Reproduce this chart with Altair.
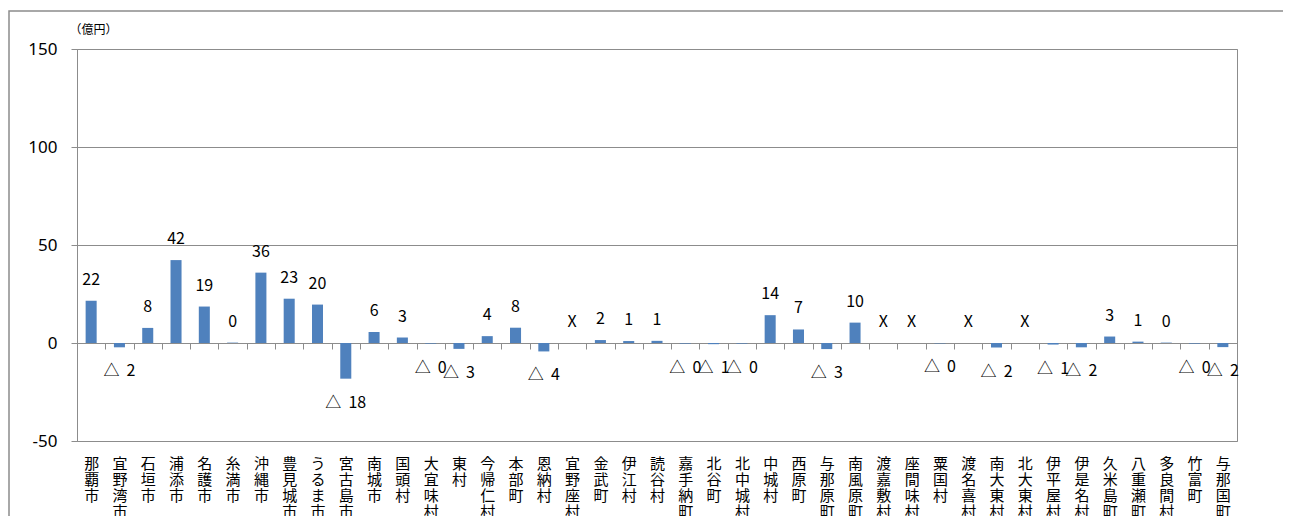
import altair as alt
import pandas as pd

categories = ["那覇市", "宜野湾市", "石垣市", "浦添市", "名護市", "糸満市", "沖縄市", "豊見城市",
              "うるま市", "宮古島市", "南城市", "国頭村", "大宜味村", "東村", "今帰仁村", "本部町",
              "恩納村", "宜野座村", "金武町", "伊江村", "読谷村", "嘉手納町", "北谷町", "北中城村",
              "中城村", "西原町", "与那原町", "南風原町", "渡嘉敷村", "座間味村", "粟国村", "渡名喜村",
              "南大東村", "北大東村", "伊平屋村", "伊是名村", "久米島町", "八重瀬町", "多良間村",
              "竹富町", "与那国町"]
values = [21.5, -2.2, 7.7, 42.3, 18.6, 0.2, 35.9, 22.6,
          19.6, -18.2, 5.6, 2.8, -0.3, -3.0, 3.5, 7.8,
          -4.3, None, 1.5, 1.0, 1.1, -0.3, -0.6, -0.3,
          14.2, 6.9, -3.1, 10.4, None, None, -0.2, None,
          -2.3, None, -0.8, -2.2, 3.3, 0.7, 0.2,
          -0.3, -2.1]
labels = ["22", "△ 2", "8", "42", "19", "0", "36", "23",
          "20", "△ 18", "6", "3", "△ 0", "△ 3", "4", "8",
          "△ 4", "X", "2", "1", "1", "△ 0", "△ 1", "△ 0",
          "14", "7", "△ 3", "10", "X", "X", "△ 0", "X",
          "△ 2", "X", "△ 1", "△ 2", "3", "1", "0",
          "△ 0", "△ 2"]
y_ticks = [-50, 0, 50, 100, 150]
unit_label = "（億円）"

df = pd.DataFrame({"city": categories, "value": values, "label": labels})

GRAY = "#8c8c8c"
NUM_FONT = "Noto Sans"
JP_FONT = "Noto Sans CJK JP"

base = alt.Chart(df).transform_calculate(
    pos="datum.value == null ? 0 : datum.value",
    txt="replace(datum.label, ' ', '\u00a0\u00a0')",
)

x = alt.X(
    "city:N",
    sort=categories,
    scale=alt.Scale(paddingInner=0, paddingOuter=0),
    axis=alt.Axis(
        title=None,
        orient="bottom",
        offset=-98,
        tickBand="extent",
        tickSize=6,
        tickColor=GRAY,
        domainColor=GRAY,
        labelExpr="split(datum.label, '')",
        labelAngle=0,
        labelAlign="center",
        labelBaseline="top",
        labelFont=JP_FONT,
        labelFontSize=15,
        labelLineHeight=16,
        labelColor="black",
        labelPadding=107,
        labelOverlap=False,
        labelLimit=0,
        grid=False,
    ),
)

y = alt.Y(
    "pos:Q",
    scale=alt.Scale(domain=[-50, 150], nice=False),
    axis=alt.Axis(
        values=y_ticks,
        labelExpr="datum.value + ''",
        title=unit_label,
        titleAngle=0,
        titleAlign="left",
        titleBaseline="middle",
        titleX=-8,
        titleY=-20,
        titleFont=JP_FONT,
        titleFontSize=12,
        titleFontWeight="normal",
        titleColor="black",
        labelFont=NUM_FONT,
        labelFontSize=17,
        labelColor="black",
        labelPadding=14,
        tickSize=6,
        tickColor=GRAY,
        domainColor=GRAY,
        gridColor=GRAY,
        grid=True,
    ),
)

bars = base.transform_filter("datum.value != null").mark_bar(
    color="#4F81BD", width=alt.RelativeBandSize(0.39)
).encode(x=x, y=y)

text_pos = base.transform_filter("datum.pos >= 0").mark_text(
    dy=-21, fontSize=16, font=JP_FONT, color="black", baseline="middle"
).encode(x=x, y=y, text="txt:N")

text_neg = base.transform_filter("datum.pos < 0").mark_text(
    dy=24, fontSize=16, font=JP_FONT, color="black", baseline="middle"
).encode(x=x, y=y, text="txt:N")

frame = alt.Chart(pd.DataFrame({"f": [0]})).mark_rect(
    filled=False, stroke=GRAY, strokeWidth=1.5
).encode(
    x=alt.value(-68), x2=alt.value(1300), y=alt.value(-38), y2=alt.value(600)
)

chart = alt.layer(frame, bars, text_pos, text_neg).properties(
    width=1160,
    height=392,
    autosize=alt.AutoSizeParams(type="none"),
    padding={"left": 69, "top": 41, "right": 46, "bottom": 75},
).configure_view(stroke=GRAY, strokeWidth=1)

chart.save("out.html", embed_options={"renderer": "svg", "actions": False})
